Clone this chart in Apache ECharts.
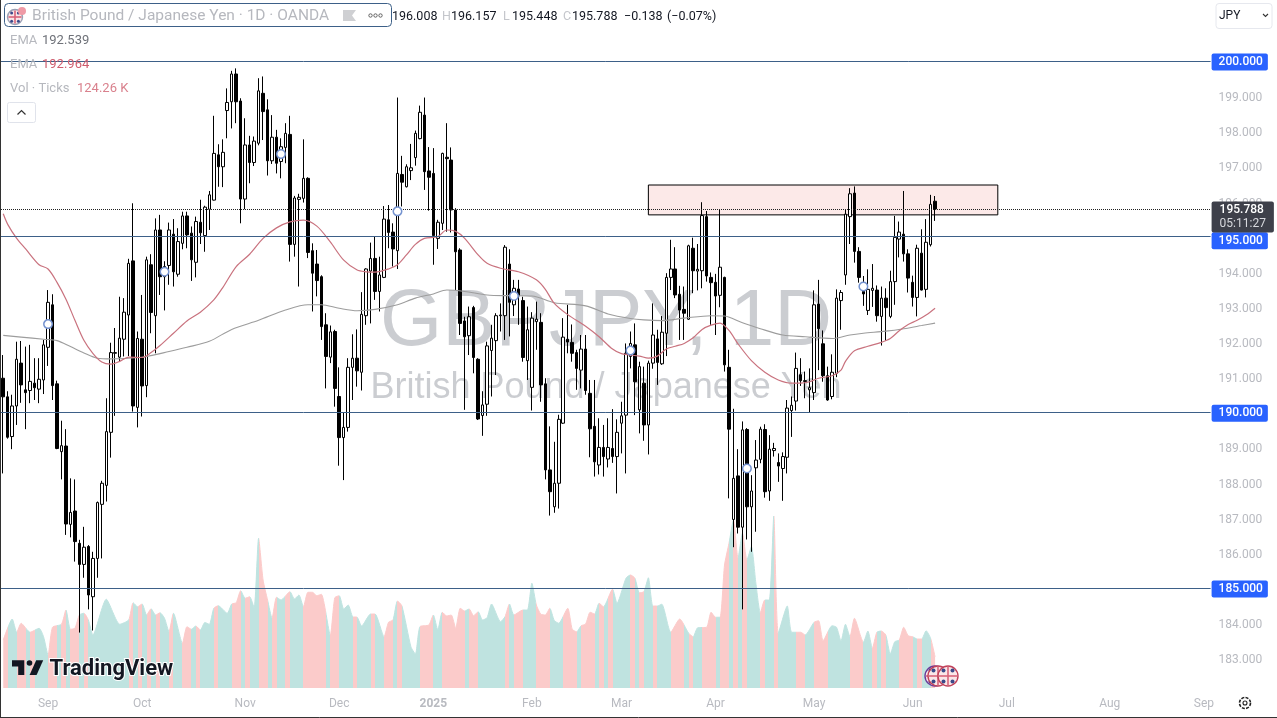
<!DOCTYPE html>
<html><head><meta charset="utf-8">
<style>html,body{margin:0;padding:0;background:#fff}#c{width:1277px;height:718px}</style>
<script src="https://cdn.jsdelivr.net/npm/echarts@6/dist/echarts.min.js"></script>
</head><body><div id="c"></div>
<script>
const opens=[190.97,190.44,189.31,190.18,191.4,190.64,190.62,190.83,190.66,190.92,191.85,193.06,190.81,188.88,189.04,186.81,187.19,186.27,185.67,186.18,184.75,185.84,187.38,187.92,189.43,191.68,191.57,192.08,192.77,194.31,190.14,192.08,190.76,194.2,192.75,195.19,193.86,194.18,195.07,193.93,194.81,195.59,195.1,194.27,195.41,195.03,195.78,196.04,197.33,196.99,198.59,198.84,199.63,198.86,196.07,197.61,197.11,197.66,199.08,198.61,197.16,197.83,197.14,197.54,197.91,194.78,196.06,196.09,196.66,194.6,194.22,193.86,192.49,191.57,192.3,190.45,189.28,189.57,191.28,191.54,191.14,192.75,194.02,194.38,193.44,193.84,195.48,195.13,194.6,196.77,196.42,196.88,197.25,197.79,198.46,196.87,196.8,194.95,195.38,197.26,197.18,195.76,194.62,192.6,192.18,192.98,191.51,189.91,190.23,191.76,192.04,192.75,192.75,194.22,193.06,193.51,193.18,191.47,190.71,192.58,192.56,190.81,188.36,187.31,187.98,189.69,192.08,191.99,191.7,191.2,191.8,190.54,189.6,188.5,189.0,188.67,188.97,188.74,189.69,189.92,191.59,191.92,190.07,190.83,189.64,191.4,192.09,191.38,192.25,193.84,194.08,193.36,192.93,192.65,194.67,194.02,194.03,195.57,193.84,193.7,193.33,193.84,191.28,186.95,188.19,186.73,189.51,187.31,188.42,188.66,189.51,187.76,188.91,188.57,188.4,188.72,190.05,190.32,191.07,190.9,190.64,190.56,193.08,191.95,191.04,190.45,191.11,193.18,193.91,195.57,196.24,194.58,193.44,192.9,193.47,193.48,192.73,193.25,192.73,193.72,194.93,195.07,194.51,193.7,193.27,194.53,193.5,194.77,196.008];
const highs=[191.63,190.6,190.5,192.01,192.03,191.87,191.92,191.54,191.54,192.06,193.48,193.36,190.9,189.76,189.52,188.12,188.09,186.37,186.74,186.22,186.03,187.46,188.05,190.4,191.98,192.4,193.29,193.25,194.37,195.95,192.3,193.34,194.43,194.5,195.52,195.62,194.3,195.4,195.5,195.24,195.71,195.71,195.29,195.57,196.05,195.88,196.3,198.44,197.63,197.77,199.22,199.72,199.79,198.94,198.37,197.87,197.85,199.51,199.56,198.91,198.46,198.04,197.8,198.23,198.44,196.16,196.22,197.77,196.69,194.81,194.62,193.9,192.82,192.47,192.35,191.28,190.0,191.54,192.22,192.36,193.42,194.1,194.83,195.0,194.43,195.87,195.9,195.38,198.96,197.3,197.06,197.64,198.02,198.73,198.96,197.55,197.52,195.48,197.39,198.23,197.54,195.81,194.67,192.72,193.01,193.03,191.54,190.6,192.01,192.49,192.82,193.1,194.76,194.64,193.77,193.77,193.29,193.01,192.85,193.15,192.82,190.97,189.6,189.16,189.93,192.68,193.06,192.5,191.78,192.2,192.2,190.92,190.92,189.83,189.64,189.83,190.09,189.8,190.3,191.96,192.3,192.53,191.44,191.3,191.47,193.1,192.35,192.74,193.96,194.91,194.7,193.6,193.58,194.77,194.97,194.79,195.98,195.73,193.98,193.94,195.78,193.86,191.78,190.1,188.95,189.74,189.55,188.21,189.21,189.59,189.66,189.35,189.13,188.83,188.86,190.35,190.45,191.7,191.54,191.16,191.25,193.47,193.77,192.33,191.3,191.65,193.5,193.48,195.78,196.38,196.43,194.7,193.88,194.07,194.22,193.61,193.58,193.53,194.03,195.59,195.43,196.3,194.64,193.89,194.77,195.21,195.5,196.19,196.157];
const lows=[188.26,189.25,188.95,189.64,190.27,189.52,190.26,190.35,190.26,190.52,191.32,190.35,188.95,188.09,186.51,186.44,185.75,183.73,185.29,184.39,183.79,185.29,185.84,187.46,188.71,189.9,191.44,191.59,191.6,190.02,189.57,189.88,190.43,192.25,191.68,193.34,192.9,193.63,193.58,193.86,194.64,194.67,193.74,193.84,194.79,194.57,195.19,196.03,196.42,196.41,197.8,198.08,198.23,195.38,195.78,196.52,197.01,197.6,197.75,196.74,197.07,196.8,196.66,197.09,194.29,194.43,193.58,195.97,194.39,192.87,193.3,192.06,190.68,191.4,190.16,188.48,188.07,189.45,190.35,190.73,190.62,192.49,192.53,193.2,192.87,193.82,194.67,194.15,194.08,195.86,196.4,196.61,197.02,197.77,196.33,195.74,194.2,194.65,195.19,195.14,195.12,193.48,192.2,190.07,191.63,191.11,189.78,189.33,189.9,190.45,191.06,192.3,192.06,192.16,192.74,192.49,191.44,190.92,190.05,191.78,190.3,188.09,187.06,187.14,187.26,189.67,191.68,191.44,190.64,190.68,190.5,188.72,188.17,188.23,188.17,188.43,188.56,187.69,188.83,188.26,191.25,189.92,189.4,189.19,188.8,191.24,190.78,191.35,191.6,193.48,193.25,192.06,192.06,192.63,193.39,193.47,193.53,193.72,192.49,192.2,192.99,191.16,187.55,186.16,186.55,184.39,186.38,186.03,186.6,188.55,187.57,187.48,188.74,188.02,187.48,188.26,189.3,190.05,190.75,190.4,190.0,190.35,191.2,190.87,190.33,190.37,191.0,192.35,193.63,194.79,194.26,193.69,193.03,192.77,193.0,192.58,191.9,192.04,192.68,193.06,194.41,194.29,193.41,193.01,192.73,193.47,193.27,194.72,195.448];
const closes=[190.44,189.29,190.18,191.51,190.78,190.56,190.88,190.7,190.94,191.92,193.13,190.76,188.97,189.05,186.82,187.15,186.32,185.67,186.16,184.8,185.84,187.43,187.98,189.45,191.7,191.7,192.11,192.85,194.24,190.18,192.1,190.75,194.34,192.84,195.19,193.86,194.15,195.19,194.0,194.86,195.59,195.05,194.34,195.43,195.11,195.84,196.19,197.37,196.99,197.4,198.82,199.63,198.84,196.07,197.61,197.11,197.72,199.15,198.56,197.16,197.83,197.09,197.56,197.94,194.78,196.1,196.12,196.66,194.55,193.96,193.75,192.44,191.59,192.29,190.68,189.28,189.57,191.28,191.54,191.18,192.79,194.08,194.38,193.44,193.91,195.5,195.12,194.65,196.8,196.55,196.99,196.96,197.94,198.54,196.85,196.69,195.03,195.41,197.37,197.22,195.76,194.57,192.53,192.15,192.72,191.56,189.81,190.21,191.89,192.11,192.75,192.77,194.7,193.13,193.53,193.31,191.56,192.35,192.68,192.65,190.78,188.36,187.74,187.98,189.8,192.14,192.0,191.68,191.25,191.8,190.62,189.53,188.59,189.0,188.74,189.0,188.74,189.43,189.9,191.68,191.96,190.87,191.3,189.64,191.4,192.2,191.42,192.28,193.84,194.08,193.34,192.91,192.82,194.74,194.03,194.07,195.6,193.88,193.69,193.31,194.13,191.35,189.52,188.12,186.73,189.5,187.31,187.76,188.64,189.52,187.74,188.95,188.97,188.47,188.74,190.12,190.2,191.25,190.9,190.88,190.7,193.06,192.38,191.04,190.35,191.14,193.25,193.41,195.64,196.22,194.58,193.84,193.37,193.5,193.53,192.75,193.25,192.98,193.72,194.98,195.13,194.51,193.82,193.27,194.67,193.48,194.84,195.92,195.788];

const ema50Idx=[0,1,3,5,8,10,12,14,16,18,20,22,24,26,28,31,33,35,38,41,44,47,49,52,55,58,61,64,67,70,73,76,79,81,83,86,88,90,92,94,97,99,101,103,106,108,111,115,119,121,123,126,130,133,136,138,142,144,146,148,150,152,154,156,158,160,162,164,167,170,173,176,178,180,182,185,187,188,190,193,196,198,200,202,204,206,208];
const ema50Val=[195.65,195.35,194.95,194.65,194.2,194.08,193.7,193.22,192.62,192.05,191.68,191.43,191.37,191.45,191.57,191.56,191.7,191.9,192.25,192.6,192.85,193.2,193.55,194.15,194.5,194.95,195.25,195.42,195.47,195.3,194.85,194.33,194.05,194.0,193.99,194.08,194.2,194.48,194.78,194.95,195.0,195.19,195.15,194.95,194.48,194.24,194.1,194.0,193.77,193.5,193.1,192.78,192.45,192.15,191.8,191.67,191.6,191.54,191.6,191.8,191.88,191.96,192.12,192.36,192.48,192.54,192.33,191.95,191.47,191.14,190.92,190.83,190.83,190.87,190.97,191.04,191.2,191.45,191.75,191.88,191.99,192.1,192.32,192.5,192.62,192.77,192.964];
const ema200Idx=[0,4,9,12,15,18,21,24,28,32,37,41,46,51,57,63,68,71,75,79,83,88,92,96,99,103,108,113,118,123,130,135,140,143,147,152,158,161,165,169,174,179,185,189,192,197,201,205,208];
const ema200Val=[192.19,192.14,192.08,192.04,191.87,191.69,191.54,191.52,191.54,191.59,191.73,191.85,192.02,192.36,192.62,192.91,193.06,193.06,192.96,192.89,192.93,193.06,193.25,193.37,193.48,193.44,193.34,193.32,193.31,193.12,193.03,192.8,192.67,192.63,192.61,192.68,192.75,192.74,192.55,192.38,192.2,192.15,192.1,192.2,192.25,192.31,192.38,192.47,192.539];

const volIdx=[0,2,3,4,6,8,9,10,11,13,14,15,16,17,18,19,20,23,26,28,29,30,31,32,33,34,35,36,37,38,40,41,42,43,44,45,46,47,48,50,51,52,53,54,55,56,57,58,59,60,61,62,64,65,66,67,68,69,70,71,73,74,75,76,77,78,79,80,82,83,85,86,87,88,89,91,92,93,95,96,97,98,99,100,101,102,103,104,105,106,107,108,109,111,112,113,114,116,117,118,119,120,121,122,123,124,126,127,128,129,130,131,132,133,134,136,137,139,140,141,142,143,144,145,146,147,149,151,153,154,155,157,158,159,160,161,162,163,164,165,166,167,168,169,170,171,172,173,175,176,178,179,181,182,183,185,186,187,188,189,190,192,193,194,195,196,197,198,199,200,201,202,203,204,205,206,207,208];
const volVal=[192,276,223,259,223,239,205,132,243,255,312,235,239,292,299,272,212,355,255,272,341,325,336,292,317,292,301,279,225,299,179,245,235,248,232,262,255,319,329,299,336,341,389,359,365,321,599,432,352,279,363,352,385,356,372,325,383,383,369,375,212,361,369,316,332,285,283,248,296,296,205,263,272,348,328,165,136,245,252,292,232,303,288,292,239,319,308,316,289,305,272,281,336,265,285,336,292,312,312,419,332,295,292,319,270,259,319,235,225,249,256,303,296,339,325,395,339,439,452,439,381,385,441,328,328,335,223,276,219,205,241,243,303,283,283,492,579,672,519,619,512,565,419,301,352,352,688,219,328,223,223,212,263,269,189,249,243,188,255,205,279,183,228,159,223,228,212,136,185,192,243,209,205,196,196,229,199,124.26];

const levelLines=[200,195,190,185];
const zoneTop=196.47, zoneBottom=195.62, zoneFrom=144, zoneTo=222;
const lastPrice=195.788;
const earnIdx=[10,36,62,88,114,140,166,192];
const earnVal=[192.51,194.0,197.35,195.72,193.31,191.76,188.4,193.58];
const tickIdx=[10,31,54,75,96,118,138,159,181,203,224,247,268];
const tickLabels=['Sep','Oct','Nov','Dec','2025','Feb','Mar','Apr','May','Jun','Jul','Aug','Sep'];

// trading days from 19 Aug 2024, weekends and the two closed days skipped
const categories=[];
(function(){let d=new Date(Date.UTC(2024,7,19));while(categories.length<270){const w=d.getUTCDay(),s=d.toISOString().slice(0,10);if(w!==0&&w!==6&&s!=='2024-12-25'&&s!=='2025-01-01')categories.push(s);d=new Date(d.getTime()+864e5);}})();

const FONT='Roboto';
const UP='#bfe3e0',DOWN='#fbcbca';
const pieces=[];
opens.forEach((o,i)=>{const c=closes[i]>=o?UP:DOWN;const last=pieces[pieces.length-1];
  if(last&&last.color===c)last.lt=i;else pieces.push({gte:i===0?-1:i-1,lt:i,color:c});});
pieces[pieces.length-1].lt=300;

const tag=(v)=>({yAxis:v,lineStyle:{color:'#3d6088',width:1,type:'solid'},label:{show:true,position:'end',distance:1,
  formatter:v.toFixed(3),color:'#fff',backgroundColor:'#2962ff',padding:[3,5,2,7],borderRadius:2,fontFamily:FONT,fontSize:12,fontWeight:500,offset:[0,v===195?4:1]}});

function flag(cx,cy,r,stroke){
  return [
   {type:'circle',z:6,shape:{cx,cy,r},style:{fill:'#fbe6e8',stroke,lineWidth:1.4}},
   {type:'line',z:6,shape:{x1:cx-r+1,y1:cy,x2:cx+r-1,y2:cy},style:{stroke:'#d9657a',lineWidth:1.6}},
   {type:'line',z:6,shape:{x1:cx,y1:cy-r+1,x2:cx,y2:cy+r-1},style:{stroke:'#d9657a',lineWidth:1.6}},
   {type:'circle',z:6,shape:{cx:cx-r*0.45,cy:cy-r*0.55,r:r*0.2},style:{fill:'#3b4a8a'}},
   {type:'circle',z:6,shape:{cx:cx+r*0.45,cy:cy-r*0.55,r:r*0.2},style:{fill:'#3b4a8a'}},
   {type:'circle',z:6,shape:{cx:cx-r*0.45,cy:cy+r*0.55,r:r*0.2},style:{fill:'#3b4a8a'}},
   {type:'circle',z:6,shape:{cx:cx+r*0.45,cy:cy+r*0.55,r:r*0.2},style:{fill:'#3b4a8a'}}
  ];
}
const txt=(x,y,t,fill,size,extra)=>Object.assign({type:'text',z:7,x,y,style:Object.assign({text:t,fill,fontFamily:FONT,fontSize:size,textVerticalAlign:'middle',verticalAlign:'middle'},extra||{})});

const graphicEls=[
  // watermark
  {type:'text',z:0,x:606,y:323,style:{text:'GBPJPY, 1D',fill:'#cbcdd1',fontFamily:'Liberation Sans',fontSize:80,textAlign:'center',textVerticalAlign:'middle',verticalAlign:'middle',align:'center'}},
  {type:'text',z:0,x:606,y:388,style:{text:'British Pound / Japanese Yen',fill:'#cbcdd1',fontFamily:'Liberation Sans',fontSize:36,textAlign:'center',textVerticalAlign:'middle',verticalAlign:'middle',align:'center'}},
  // header
  {type:'rect',z:6,shape:{x:4.5,y:3.5,width:387,height:23,r:4},style:{fill:'#fff',stroke:'#3d6088',lineWidth:1}},
  ...flag(15,17,7.5,'#9aa0b4'),
  {type:'circle',z:6,shape:{cx:22,cy:11,r:4},style:{fill:'#ef9aa6'}},
  txt(32,16.5,'British Pound / Japanese Yen · 1D · OANDA','#b6b8be',15.5),
  {type:'polygon',z:7,shape:{points:[[343,10],[356,10],[352,15.5],[356,21],[343,21]]},style:{fill:'#cfd0d3'}},
  {type:'circle',z:7,shape:{cx:370.5,cy:15.5,r:1.7},style:{fill:'#fff',stroke:'#555',lineWidth:0.9}},
  {type:'circle',z:7,shape:{cx:375.5,cy:15.5,r:1.7},style:{fill:'#fff',stroke:'#555',lineWidth:0.9}},
  {type:'circle',z:7,shape:{cx:380.5,cy:15.5,r:1.7},style:{fill:'#fff',stroke:'#555',lineWidth:0.9}},
  txt(392,16.5,'196.008','#131722',12.5),
  txt(442,16.5,'H','#c4c6cb',12.5),
  txt(451,16.5,'196.157','#131722',12.5),
  txt(503,16.5,'L','#c4c6cb',12.5),
  txt(512,16.5,'195.448','#131722',12.5),
  txt(563,16.5,'C','#c4c6cb',12.5),
  txt(572,16.5,'195.788','#131722',12.5),
  txt(624,16.5,'−0.138','#131722',12.5),
  txt(667,16.5,'(−0.07%)','#131722',12.5),
  // legend
  txt(10,41,'EMA','#b6b8be',13),
  txt(42,41,'192.539','#6f7279',13),
  txt(10,65,'EMA','#b6b8be',13),
  txt(42,65,'192.964','#cf5d6e',13),
  txt(10,89,'Vol · Ticks','#b6b8be',13),
  txt(77,89,'124.26 K','#d9818d',13),
  {type:'rect',z:6,shape:{x:7.5,y:102.5,width:28,height:20,r:2},style:{fill:'#fff',stroke:'#e0e3eb',lineWidth:1}},
  {type:'polyline',z:7,shape:{points:[[17.5,114.5],[21.5,110.5],[25.5,114.5]]},style:{fill:'none',stroke:'#333',lineWidth:1.2}},
  // currency button
  {type:'rect',z:6,shape:{x:1216,y:3.5,width:56,height:25,r:3},style:{fill:'#fff',stroke:'#e6e8ee',lineWidth:1}},
  txt(1219,16,'JPY','#131722',12),
  {type:'polyline',z:7,shape:{points:[[1263,14],[1265.5,16.5],[1268,14]]},style:{fill:'none',stroke:'#333',lineWidth:1.1}},
  // logo
  {type:'polygon',z:7,shape:{points:[[12,660.3],[24.3,660.3],[24.3,675],[18.2,675],[18.2,666.6],[12,666.6]]},style:{fill:'#131722'}},
  {type:'polygon',z:7,shape:{points:[[36.6,675],[29.6,675],[36.2,660.3],[43.2,660.3]]},style:{fill:'#131722'}},
  {type:'circle',z:7,shape:{cx:29.5,cy:663,r:2.8},style:{fill:'#131722'}},
  txt(49.5,669,'TradingView','#131722',22,{fontWeight:700,stroke:'#fff',lineWidth:2}),
  // flags
  ...flag(935,676,10,'#6a3a9a'),
  ...flag(938,676,10,'#c0415a'),
  ...flag(948,676,10,'#c0415a'),
  // gear
  {type:'circle',z:7,shape:{cx:1245,cy:703,r:5.5},style:{fill:'#fff',stroke:'#222',lineWidth:1.6,lineDash:[3,1.3]}},
  {type:'circle',z:7,shape:{cx:1245,cy:703,r:2},style:{fill:'#fff',stroke:'#222',lineWidth:1.1}},
  // frame edges
  {type:'line',z:9,shape:{x1:0.5,y1:0,x2:0.5,y2:718},style:{stroke:'#333',lineWidth:1}},
  {type:'line',z:9,shape:{x1:0,y1:717.5,x2:1277,y2:717.5},style:{stroke:'#333',lineWidth:1}}
];

const chart=echarts.init(document.getElementById('c'),null,{renderer:'canvas'});
const hideLabels=[182,185,190,195,200,201];
chart.setOption({
  animation:false,backgroundColor:'#fff',
  grid:[
    {left:1,top:25.87,width:1209.6,height:667.47},
    {left:1,top:0,width:1209.6,height:688},
    {left:1,top:27.87,width:1209.6,height:667.47}
  ],
  xAxis:[
    {type:'category',gridIndex:0,data:categories,boundaryGap:true,show:false},
    {type:'category',gridIndex:1,data:categories,boundaryGap:true,
      axisLine:{show:false},axisTick:{show:false},splitLine:{show:false},
      axisLabel:{interval:(i)=>tickIdx.includes(i),hideOverlap:false,margin:10,color:'#b8bac0',fontFamily:FONT,fontSize:12,
        formatter:(v,i)=>{const k=tickIdx.indexOf(i);if(k<0)return '';const t=tickLabels[k];return t==='2025'?'{b|2025}':t;},
        rich:{b:{fontWeight:700,color:'#b8bac0',fontFamily:FONT,fontSize:12}}}},
    {type:'category',gridIndex:2,data:categories,show:false}
  ],
  yAxis:[
    {type:'value',gridIndex:0,min:182,max:201,interval:1,show:false},
    {type:'value',gridIndex:1,min:0,max:2752,show:false},
    {type:'value',gridIndex:2,position:'right',min:182,max:201,interval:1,
      axisLine:{show:false},axisTick:{show:false},splitLine:{show:false},
      axisLabel:{margin:8,color:'#b8bac0',fontFamily:FONT,fontSize:12,align:'left',
        formatter:(v)=>hideLabels.includes(v)?'':v.toFixed(3)}}
  ],
  visualMap:{show:false,type:'piecewise',seriesIndex:0,dimension:0,pieces:pieces},
  graphic:{elements:graphicEls},
  series:[
    {name:'Vol',type:'line',xAxisIndex:1,yAxisIndex:1,z:1,symbol:'none',smooth:0.2,
      data:volIdx.map((x,i)=>[x,volVal[i]]),lineStyle:{width:1},areaStyle:{opacity:1}},
    {name:'Zone',type:'line',xAxisIndex:0,yAxisIndex:0,z:1,data:[],silent:true,
      markArea:{silent:true,itemStyle:{color:'#fce9e8',borderColor:'#000',borderWidth:1},
        data:[[{xAxis:zoneFrom,yAxis:zoneTop},{xAxis:zoneTo,yAxis:zoneBottom}]]}},
    {name:'GBPJPY',type:'candlestick',xAxisIndex:0,yAxisIndex:0,z:3,barWidth:3,
      data:opens.map((o,i)=>[o,closes[i],lows[i],highs[i]]),
      itemStyle:{color:'#ffffff',color0:'#000000',borderColor:'#000000',borderColor0:'#000000',borderWidth:1},
      markLine:{silent:true,symbol:'none',animation:false,z:5,
        data:[...levelLines.map(tag),
          {yAxis:lastPrice,lineStyle:{color:'#222',width:1,type:'dotted'},
           label:{show:true,position:'end',distance:1,offset:[0,8],formatter:'{a|195.788}\n{b|05:11:27}',backgroundColor:'#3e404a',padding:[2,8,1,8],borderRadius:2,
             rich:{a:{color:'#fff',fontFamily:FONT,fontSize:12,fontWeight:500,lineHeight:14},b:{color:'#d8d9de',fontFamily:FONT,fontSize:12,lineHeight:14}}}}
        ]}},
    {name:'EMA 200',type:'line',xAxisIndex:0,yAxisIndex:0,z:4,symbol:'none',smooth:0.3,
      data:ema200Idx.map((x,i)=>[x,ema200Val[i]]),lineStyle:{color:'#9d9d9d',width:1.1}},
    {name:'EMA 50',type:'line',xAxisIndex:0,yAxisIndex:0,z:4,symbol:'none',smooth:0.3,
      data:ema50Idx.map((x,i)=>[x,ema50Val[i]]),lineStyle:{color:'#c9727e',width:1.2}},
    {name:'Events',type:'scatter',xAxisIndex:0,yAxisIndex:0,z:5,symbol:'circle',symbolSize:8.5,
      data:earnIdx.map((x,i)=>[x,earnVal[i]]),itemStyle:{color:'#fff',borderColor:'#7593d0',borderWidth:1.5,opacity:1}}
  ]
});
</script></body></html>
